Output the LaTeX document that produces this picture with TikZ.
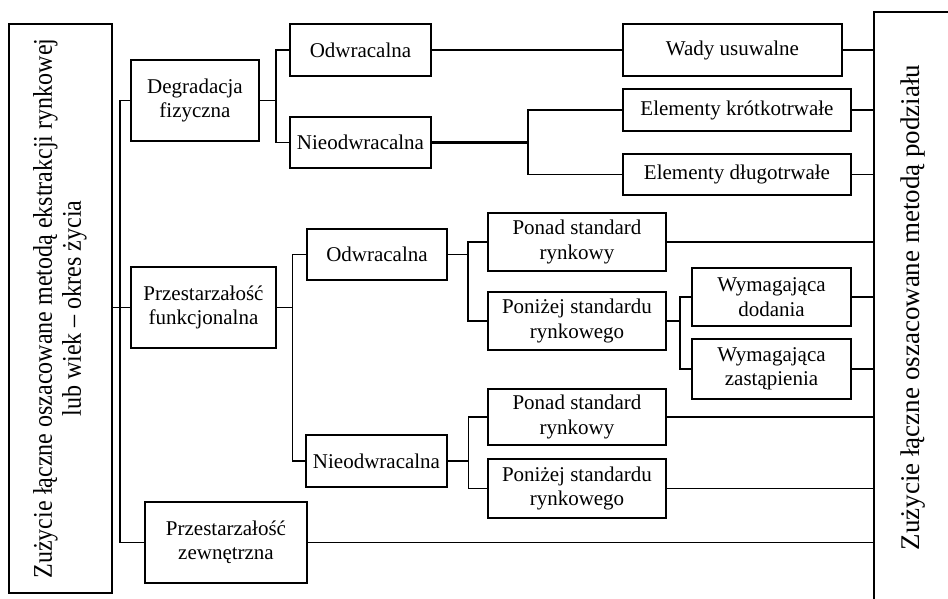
\documentclass[tikz,border=0pt]{standalone}
\usepackage{fontspec}
\usepackage{graphicx}
\setmainfont{Liberation Serif}
\usetikzlibrary{calc}
\begin{document}
\begin{tikzpicture}[x=1pt,y=-1pt,
  box/.style={draw, line width=1.9pt, inner sep=0pt, align=center, font=\fontsize{21}{24.5}\selectfont},
  conn/.style={line width=1.6pt},
  heavyconn/.style={line width=2.5pt}]
\useasboundingbox (0,0) rectangle (948,598);
\fill[white] (0,0) rectangle (948,598);
\clip (0,0) rectangle (948,598);

% side boxes
\node[draw, line width=1.9pt, rotate=90, minimum width=569, minimum height=103, inner sep=0pt] (L) at (60.5,308.5)
  {\scalebox{0.89}[1]{\fontsize{27}{29}\selectfont\begin{tabular}{@{}c@{}}Zużycie łączne oszacowane metodą ekstrakcji rynkowej\\lub wiek – okres życia\end{tabular}}};
\node[draw, line width=1.9pt, rotate=90, minimum width=640, minimum height=120, inner sep=0pt] (R) at (934,332) {};
\node[rotate=90, inner sep=0pt, font=\fontsize{27}{29}\selectfont] (RT) at (913.5,307.5) {Zużycie łączne oszacowane metodą podziału};

% level 1
\node[box, minimum width=128, minimum height=81] (DF) at (195,100.5) {Degradacja\\fizyczna};
\node[box, minimum width=145, minimum height=81] (PF) at (203.5,307.5) {Przestarzałość\\funkcjonalna};
\node[box, minimum width=162, minimum height=81] (PZ) at (226,542.5) {Przestarzałość\\zewnętrzna};

% level 2
\node[box, minimum width=141, minimum height=52] (O1) at (360.5,50) {Odwracalna};
\node[box, minimum width=141, minimum height=51] (N1) at (360.5,142.5) {Nieodwracalna};
\node[box, minimum width=140, minimum height=51] (O2) at (377,254.5) {Odwracalna};
\node[box, minimum width=141, minimum height=52] (N2) at (376.5,461) {Nieodwracalna};

% level 3
\node[box, minimum width=219, minimum height=52] (WU) at (732.5,50) {Wady usuwalne};
\node[box, minimum width=228, minimum height=42] (EK) at (737,110) {Elementy krótkotrwałe};
\node[box, minimum width=228, minimum height=41] (ED) at (737,174.5) {Elementy długotrwałe};
\node[box, minimum width=178, minimum height=58] (PS1) at (577,242) {Ponad standard\\rynkowy};
\node[box, minimum width=178, minimum height=58] (PN1) at (577,321) {Poniżej standardu\\rynkowego};
\node[box, minimum width=159, minimum height=58] (WD) at (771.5,297) {Wymagająca\\dodania};
\node[box, minimum width=159, minimum height=60] (WZ) at (771.5,369) {Wymagająca\\zastąpienia};
\node[box, minimum width=178, minimum height=56] (PS2) at (577,417) {Ponad standard\\rynkowy};
\node[box, minimum width=178, minimum height=59] (PN2) at (577,488.5) {Poniżej standardu\\rynkowego};

% branch points
\coordinate (sp) at ($(DF.west)+(-10,0)$);
\coordinate (b1) at ($(DF.east)+(16,0)$);
\coordinate (b2) at ($(N1.east)+(96,0)$);
\coordinate (b3) at ($(PF.east)+(15.5,0)$);
\coordinate (b4) at ($(O2.east)+(20,0)$);
\coordinate (b5) at ($(PN1.east)+(13,0)$);
\coordinate (b6) at ($(N2.east)+(20.5,0)$);

% connectors
\draw[conn] (DF.west) -- (sp) |- (PZ.west);
\draw[conn] (L.south |- PF.west) -- (PF.west);

\draw[conn] (DF.east) -- (b1);
\draw[conn] (O1.west) -| (b1) |- (N1.west);
\draw[conn] (O1.east) -- (WU.west);
\draw[heavyconn] (N1.east) -- (b2);
\draw[conn] (EK.west) -| (b2) |- (ED.west);

\draw[conn] (PF.east) -- (b3);
\draw[conn] (O2.west) -| (b3) |- (N2.west);
\draw[conn] (O2.east) -- (b4);
\draw[conn] (PS1.west) -| (b4) |- (PN1.west);
\draw[conn] (PN1.east) -- (b5);
\draw[conn] (WD.west) -| (b5) |- (WZ.west);
\draw[heavyconn] (N2.east) -- (b6);
\draw[conn] (PS2.west) -| (b6) |- (PN2.west);

% to the right box
\foreach \n in {WU,EK,ED,PS1,WD,WZ,PS2,PN2,PZ}
  \draw[conn] (\n.east) -- (\n.east -| R.north);
\end{tikzpicture}
\end{document}
